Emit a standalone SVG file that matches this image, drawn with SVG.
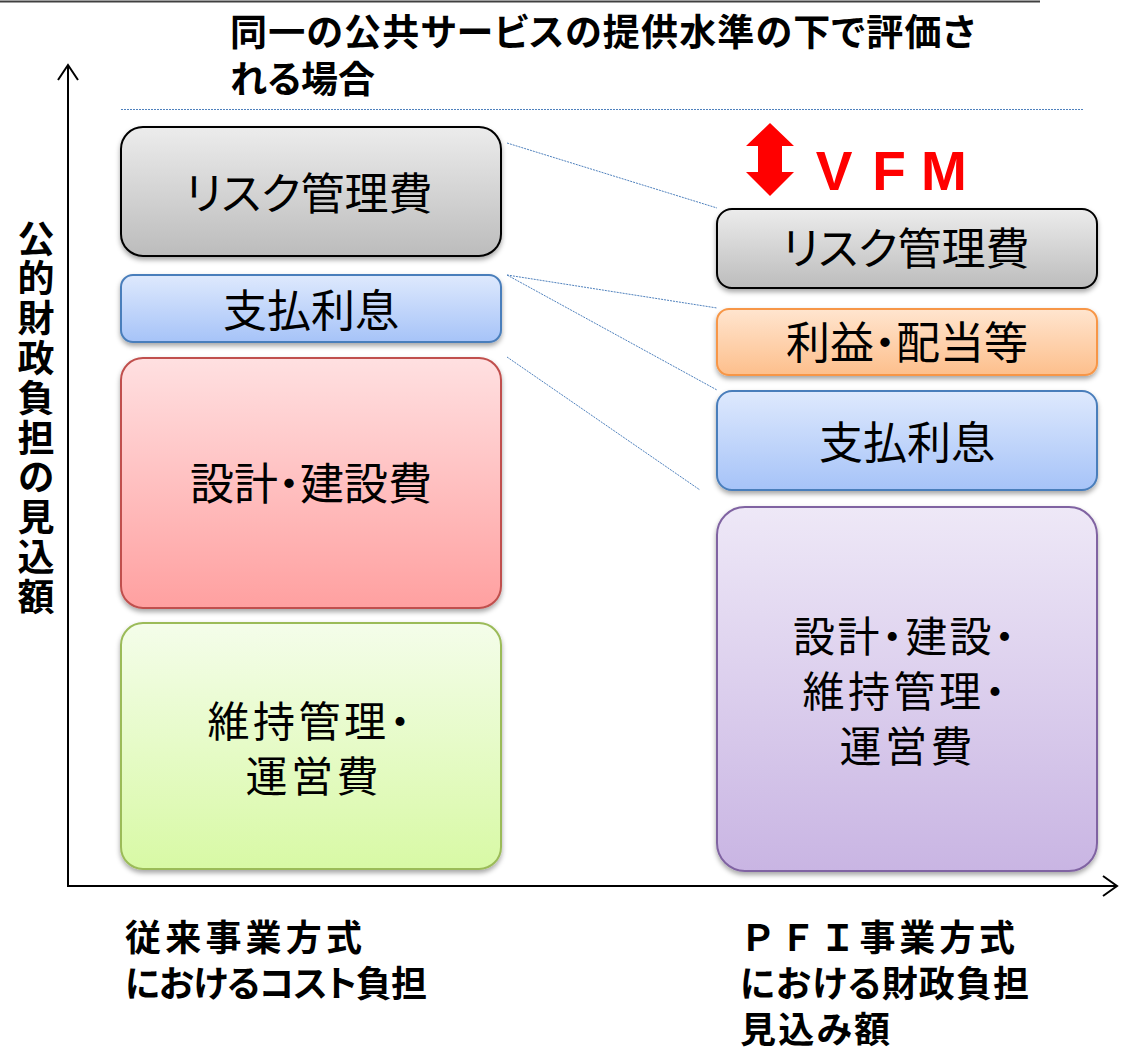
<svg xmlns="http://www.w3.org/2000/svg" width="1124" height="1054" viewBox="0 0 1124 1054">
<defs>
<style>
.lbl{font-family:"Noto Sans CJK JP","Noto Sans CJK SC",sans-serif;font-size:44px;fill:#000;text-anchor:middle;font-feature-settings:"palt" 1;}
.ml{font-size:42px;}
.bold{font-family:"Noto Sans CJK JP","Noto Sans CJK SC",sans-serif;font-weight:700;fill:#000;}
.palt{font-feature-settings:"palt" 1;}
.dot{fill:none;stroke:#4f81bd;stroke-width:1;stroke-dasharray:2 1;}
.axis{fill:none;stroke:#000;stroke-width:2;}
.box{stroke-width:2;filter:url(#sh);}
</style>
<filter id="sh" x="-10%" y="-10%" width="120%" height="130%">
<feDropShadow dx="0" dy="3" stdDeviation="2.5" flood-color="#000" flood-opacity="0.35"/>
</filter>
<linearGradient id="gGray" x1="0" y1="0" x2="0" y2="1"><stop offset="0" stop-color="#ececec"/><stop offset="1" stop-color="#bcbcbc"/></linearGradient>
<linearGradient id="gBlue" x1="0" y1="0" x2="0" y2="1"><stop offset="0" stop-color="#dee9fd"/><stop offset="1" stop-color="#a6c3f8"/></linearGradient>
<linearGradient id="gRed" x1="0" y1="0" x2="0" y2="1"><stop offset="0" stop-color="#ffe0e1"/><stop offset="1" stop-color="#ffa0a0"/></linearGradient>
<linearGradient id="gGreen" x1="0" y1="0" x2="0" y2="1"><stop offset="0" stop-color="#f4fdea"/><stop offset="1" stop-color="#d8f9a5"/></linearGradient>
<linearGradient id="gOrange" x1="0" y1="0" x2="0" y2="1"><stop offset="0" stop-color="#ffe5cf"/><stop offset="1" stop-color="#fdbf8c"/></linearGradient>
<linearGradient id="gPurple" x1="0" y1="0" x2="0" y2="1"><stop offset="0" stop-color="#eee8f7"/><stop offset="1" stop-color="#c9b5e3"/></linearGradient>
</defs>
<rect x="0" y="0" width="1124" height="1054" fill="#fff"/>

<!-- top rule and guide -->
<line x1="0" y1="1.5" x2="1040" y2="1.5" stroke="#404040" stroke-width="2"/>
<line class="dot" x1="121" y1="109.5" x2="1083" y2="109.5"/>

<!-- title -->
<g id="title">
<text class="bold palt" x="230" y="46" font-size="37" textLength="745">同一の公共サービスの提供水準の下で評価さ</text>
<text class="bold palt" x="230" y="93" font-size="37">れる場合</text>
</g>

<!-- axes -->
<g id="axes">
<line class="axis" x1="68" y1="66" x2="68" y2="887"/>
<polyline class="axis" points="58,80 68,65 78,80"/>
<line class="axis" x1="67" y1="886" x2="1116" y2="886"/>
<polyline class="axis" points="1103,876 1117,886 1103,896"/>
</g>

<!-- vertical axis label -->
<g id="yLabel">
<text class="bold" x="36" y="220" font-size="37" writing-mode="tb" style="writing-mode:vertical-rl;letter-spacing:2.8px">公的財政負担の見込額</text>
</g>

<!-- connectors -->
<g id="connectors">
<line class="dot" x1="507" y1="143" x2="717" y2="208"/>
<line class="dot" x1="507" y1="275" x2="717" y2="308"/>
<line class="dot" x1="507" y1="275" x2="717" y2="390"/>
<line class="dot" x1="507" y1="357" x2="700" y2="490"/>
</g>

<!-- left column -->
<g id="L-risk">
<rect class="box" x="121" y="127" width="380" height="129" rx="22" fill="url(#gGray)" stroke="#000"/>
<text class="lbl" x="309" y="210">リスク管理費</text>
</g>
<g id="L-interest">
<rect class="box" x="121" y="275" width="380" height="67" rx="12" fill="url(#gBlue)" stroke="#4a7ebb"/>
<text class="lbl" x="311" y="327">支払利息</text>
</g>
<g id="L-build">
<rect class="box" x="121" y="358" width="380" height="250" rx="22" fill="url(#gRed)" stroke="#c0504d"/>
<text class="lbl" x="311" y="500">設計・建設費</text>
</g>
<g id="L-ops">
<rect class="box" x="121" y="623" width="380" height="246" rx="22" fill="url(#gGreen)" stroke="#9bbb59"/>
<text class="lbl ml" x="309" y="737" textLength="203">維持管理・</text>
<text class="lbl ml" x="312" y="792" textLength="133">運営費</text>
</g>

<!-- right column -->
<g id="R-risk">
<rect class="box" x="717" y="209" width="380" height="79" rx="15" fill="url(#gGray)" stroke="#000"/>
<text class="lbl" x="906" y="265">リスク管理費</text>
</g>
<g id="R-profit">
<rect class="box" x="717" y="309" width="380" height="66" rx="12" fill="url(#gOrange)" stroke="#f79646"/>
<text class="lbl" x="907" y="359">利益・配当等</text>
</g>
<g id="R-interest">
<rect class="box" x="717" y="391" width="380" height="99" rx="15" fill="url(#gBlue)" stroke="#4a7ebb"/>
<text class="lbl" x="907" y="459">支払利息</text>
</g>
<g id="R-all">
<rect class="box" x="717" y="507" width="380" height="364" rx="28" fill="url(#gPurple)" stroke="#8064a2"/>
<text class="lbl ml" x="904" y="652" textLength="222">設計・建設・</text>
<text class="lbl ml" x="904" y="707" textLength="203">維持管理・</text>
<text class="lbl ml" x="906" y="762" textLength="133">運営費</text>
</g>

<!-- VFM -->
<g id="vfm">
<polygon points="770,123 794,146 782,146 782,172 794,172 770,196 746,172 758,172 758,146 746,146" fill="#ff0000"/>
<text font-family="Liberation Sans, Arial, sans-serif" font-weight="700" font-size="55" fill="#ff0000" text-anchor="middle"><tspan x="834" y="190">V</tspan><tspan x="889" y="190">F</tspan><tspan x="944" y="190">M</tspan></text>
</g>

<!-- bottom labels -->
<g id="xLabelLeft">
<text class="bold" x="125" y="951" font-size="36" textLength="237">従来事業方式</text>
<text class="bold palt" x="125" y="997" font-size="36" textLength="302">におけるコスト負担</text>
</g>
<g id="xLabelRight">
<text class="bold" x="740" y="951" font-size="36" textLength="275">ＰＦＩ事業方式</text>
<text class="bold palt" x="740" y="997" font-size="36" textLength="289">における財政負担</text>
<text class="bold palt" x="740" y="1043" font-size="36" textLength="150">見込み額</text>
</g>
</svg>
